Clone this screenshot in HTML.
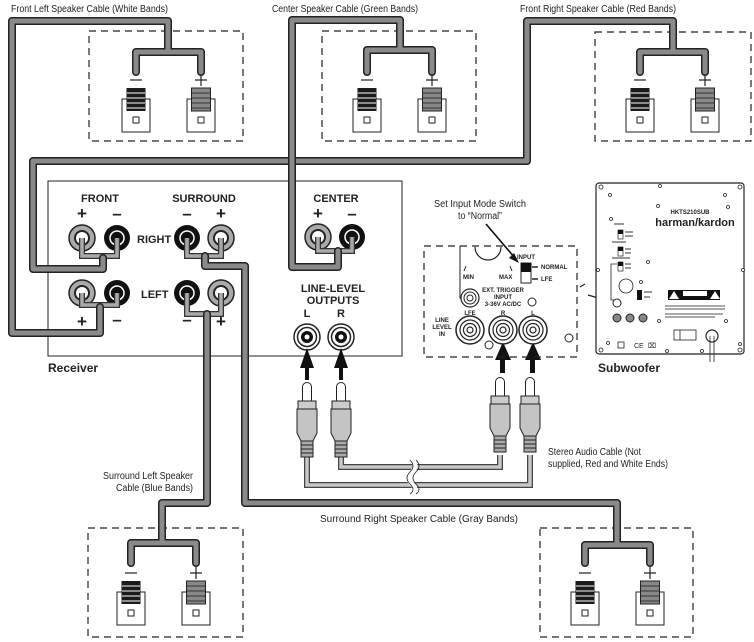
<!DOCTYPE html>
<html><head><meta charset="utf-8"><style>
html,body{margin:0;padding:0;background:#fff}
svg{display:block}
text{font-family:"Liberation Sans Narrow","Liberation Sans",sans-serif;fill:#222}
.lbl{font-size:10px}
.b{font-weight:bold;font-size:11px}
.s{font-weight:bold;font-size:6px}
.co{fill:none;stroke:#222;stroke-width:8;stroke-linejoin:round;stroke-linecap:round}
.ci{fill:none;stroke:#8a8a8a;stroke-width:5;stroke-linejoin:round;stroke-linecap:round}
.ro{fill:none;stroke:#333;stroke-width:6;stroke-linejoin:miter}
.ri{fill:none;stroke:#aaa;stroke-width:3.5;stroke-linejoin:miter}
.dash{fill:none;stroke:#222;stroke-width:1.2;stroke-dasharray:7,5}
.ao{fill:none;stroke:#444;stroke-width:6}
.ai{fill:none;stroke:#c8c8c8;stroke-width:3.5}
</style></head><body>
<svg width="754" height="642" viewBox="0 0 754 642" xmlns="http://www.w3.org/2000/svg">
<defs>
<g id="spk">
  <rect x="-14" y="11" width="28" height="33" fill="#fff" stroke="#222" stroke-width="1"/>
  <rect x="-3" y="29" width="6" height="6" fill="#fff" stroke="#222" stroke-width="1"/>
  <rect x="-9.5" y="0" width="19" height="23" fill="#1a1a1a"/>
  <path d="M-9 5H9M-9 10H9M-9 15H9M-9 20H9" stroke="#fff" stroke-width="1"/>
  <path d="M-6 -8H6" stroke="#222" stroke-width="1.2"/>
  <g transform="translate(65,0)">
  <rect x="-14" y="11" width="28" height="33" fill="#fff" stroke="#222" stroke-width="1"/>
  <rect x="-3" y="29" width="6" height="6" fill="#fff" stroke="#222" stroke-width="1"/>
  <rect x="-9.5" y="0" width="19" height="23" fill="#888" stroke="#222" stroke-width="1"/>
  <path d="M-9 5H9M-9 10H9M-9 15H9M-9 20H9" stroke="#333" stroke-width="1"/>
  <path d="M-6 -8H6M0 -14V-2" stroke="#222" stroke-width="1.2"/>
  </g>
</g>
<g id="tg"><circle r="13" fill="#aaa" stroke="#222" stroke-width="1.5"/><circle r="7" fill="#fff" stroke="#222" stroke-width="2"/></g>
<g id="tb"><circle r="13" fill="#111"/><circle r="7" fill="#111" stroke="#fff" stroke-width="1.5"/></g>
<g id="plug">
  <path d="M-4.5 18V4a4.5 4.5 0 0 1 9 0V18Z" fill="#fff" stroke="#222" stroke-width="1"/>
  <rect x="-9" y="18" width="18" height="8" fill="#ccc" stroke="#222" stroke-width="1"/>
  <path d="M-10 26H10V50L6 58H-6L-10 50Z" fill="#c4c4c4" stroke="#222" stroke-width="1"/>
  <rect x="-6" y="58" width="12" height="16" fill="#aaa" stroke="#222" stroke-width="1"/>
  <path d="M-6 62H6M-6 66H6M-6 70H6" stroke="#222" stroke-width="1"/>
</g>
<g id="jack"><circle r="14" fill="#fff" stroke="#222" stroke-width="1.5"/><circle r="10" fill="none" stroke="#222" stroke-width="1.2"/><circle r="6.5" fill="none" stroke="#222" stroke-width="1.2"/><circle r="3" fill="#fff" stroke="#222" stroke-width="1.2"/></g>
</defs>

<text class="lbl" x="11" y="12" textLength="157" lengthAdjust="spacingAndGlyphs">Front Left Speaker Cable (White Bands)</text>
<text class="lbl" x="272" y="12" textLength="146" lengthAdjust="spacingAndGlyphs">Center Speaker Cable (Green Bands)</text>
<text class="lbl" x="520" y="12" textLength="156" lengthAdjust="spacingAndGlyphs">Front Right Speaker Cable (Red Bands)</text>

<rect class="dash" x="89" y="31" width="154" height="110"/>
<rect class="dash" x="322" y="31" width="154" height="110"/>
<rect class="dash" x="595" y="32" width="156" height="109"/>
<rect class="dash" x="88" y="528" width="155" height="109"/>
<rect class="dash" x="540" y="528" width="153" height="109"/>
<use href="#spk" transform="translate(136,88)"/>
<use href="#spk" transform="translate(367,88)"/>
<use href="#spk" transform="translate(640,88)"/>
<use href="#spk" transform="translate(131,581)"/>
<use href="#spk" transform="translate(585,581)"/>

<rect x="48" y="181" width="354" height="175" fill="none" stroke="#222" stroke-width="1"/>
<text x="48" y="372" style="font-weight:bold;font-size:12px">Receiver</text>
<text class="b" x="100" y="202" text-anchor="middle">FRONT</text>
<text class="b" x="204" y="202" text-anchor="middle">SURROUND</text>
<text class="b" x="336" y="202" text-anchor="middle">CENTER</text>
<text x="82" y="219" text-anchor="middle" style="font-weight:bold;font-size:17px">+</text>
<text x="117" y="219" text-anchor="middle" style="font-weight:bold;font-size:17px">–</text>
<text x="187" y="219" text-anchor="middle" style="font-weight:bold;font-size:17px">–</text>
<text x="221" y="219" text-anchor="middle" style="font-weight:bold;font-size:17px">+</text>
<text x="318" y="219" text-anchor="middle" style="font-weight:bold;font-size:17px">+</text>
<text x="352" y="219" text-anchor="middle" style="font-weight:bold;font-size:17px">–</text>
<text x="82" y="327" text-anchor="middle" style="font-weight:bold;font-size:17px">+</text>
<text x="117" y="325" text-anchor="middle" style="font-weight:bold;font-size:17px">–</text>
<text x="187" y="325" text-anchor="middle" style="font-weight:bold;font-size:17px">–</text>
<text x="221" y="327" text-anchor="middle" style="font-weight:bold;font-size:17px">+</text>
<text class="b" x="137" y="243">RIGHT</text>
<text class="b" x="141" y="298">LEFT</text>
<text class="b" x="333" y="292" text-anchor="middle">LINE-LEVEL</text>
<text class="b" x="333" y="304" text-anchor="middle">OUTPUTS</text>
<text class="b" x="307" y="317" text-anchor="middle">L</text>
<text class="b" x="341" y="317" text-anchor="middle">R</text>
<g transform="translate(307,337)"><circle r="13" fill="#fff" stroke="#222" stroke-width="1.5"/><circle r="9.5" fill="none" stroke="#222" stroke-width="1.5"/><circle r="6" fill="#111"/><circle r="2.5" fill="#fff"/></g>
<g transform="translate(341,337)"><circle r="13" fill="#fff" stroke="#222" stroke-width="1.5"/><circle r="9.5" fill="none" stroke="#222" stroke-width="1.5"/><circle r="6" fill="#111"/><circle r="2.5" fill="#fff"/></g>

<use href="#tg" x="82" y="238"/><use href="#tb" x="117" y="238"/>
<use href="#tb" x="187" y="238"/><use href="#tg" x="221" y="238"/>
<use href="#tg" x="82" y="293"/><use href="#tb" x="117" y="293"/>
<use href="#tb" x="187" y="293"/><use href="#tg" x="221" y="293"/>
<use href="#tg" x="318" y="237"/><use href="#tb" x="352" y="237"/>

<path class="ro" d="M82,238V256H117V238M82,293V305H117V293M187,238V256H221V238M187,293V314H221V293M318,237V251H352V237"/>
<path class="ri" d="M82,238V256H117V238M82,293V305H117V293M187,238V256H221V238M187,293V314H221V293M318,237V251H352V237"/>

<path class="co" d="M100,307V333H12V21H168V52M136,72V52H201V72"/>
<path class="ci" d="M100,307V333H12V21H168V52M136,72V52H201V72"/>
<path class="co" d="M103,258V269H33V161H527V21H673V52M640,72V52H705V72"/>
<path class="ci" d="M103,258V269H33V161H527V21H673V52M640,72V52H705V72"/>
<path class="co" d="M338,251V267H292V20H400V50M367,72V50H432V72"/>
<path class="ci" d="M338,251V267H292V20H400V50M367,72V50H432V72"/>
<path class="co" d="M205,256V266H245V503H617V545M585,563V545H650V563"/>
<path class="ci" d="M205,256V266H245V503H617V545M585,563V545H650V563"/>
<path class="co" d="M207,314V503H162V543M131,563V543H196V563"/>
<path class="ci" d="M207,314V503H162V543M131,563V543H196V563"/>

<text class="lbl" x="193" y="479" text-anchor="end" textLength="90" lengthAdjust="spacingAndGlyphs">Surround Left Speaker</text>
<text class="lbl" x="193" y="491" text-anchor="end" textLength="77" lengthAdjust="spacingAndGlyphs">Cable (Blue Bands)</text>
<text class="lbl" x="320" y="522" textLength="198" lengthAdjust="spacingAndGlyphs">Surround Right Speaker Cable (Gray Bands)</text>

<path class="ao" d="M307,455V485H530V455M341,455V467H500V455"/>
<path class="ai" d="M307,455V485H530V455M341,455V467H500V455"/>
<path d="M412,460q6,6 0,12q-6,6 0,12q6,6 0,10" fill="none" stroke="#fff" stroke-width="5"/>
<path d="M410,460q6,6 0,12q-6,6 0,12q6,6 0,10M416,460q6,6 0,12q-6,6 0,12q6,6 0,10" fill="none" stroke="#222" stroke-width="0.8"/>
<use href="#plug" x="307" y="383"/>
<use href="#plug" x="341" y="383"/>
<use href="#plug" x="500" y="378"/>
<use href="#plug" x="530" y="378"/>
<text class="lbl" x="548" y="455" textLength="93" lengthAdjust="spacingAndGlyphs">Stereo Audio Cable (Not</text>
<text class="lbl" x="548" y="467" textLength="120" lengthAdjust="spacingAndGlyphs">supplied, Red and White Ends)</text>

<g fill="#111">
<path d="M307,348L300,368H305V380H309V368H314Z"/>
<path d="M341,348L334,368H339V380H343V368H348Z"/>
<path d="M503,342L495,360H500V373H505V360H511Z"/>
<path d="M533,342L525,360H530V373H535V360H541Z"/>
</g>

<rect class="dash" x="424" y="246" width="153" height="111"/>
<text class="lbl" x="480" y="207" text-anchor="middle" textLength="92" lengthAdjust="spacingAndGlyphs">Set Input Mode Switch</text>
<text class="lbl" x="480" y="219" text-anchor="middle" textLength="44" lengthAdjust="spacingAndGlyphs">to “Normal”</text>
<path d="M486,224L515,258" stroke="#111" stroke-width="1.6"/>
<path d="M519,263L509,258L514,253Z" fill="#111"/>
<path d="M475,247A13,13 0 1 0 501,247" fill="none" stroke="#222" stroke-width="1.2"/>
<path d="M466,266L464,271M510,266L512,271" stroke="#222" stroke-width="1"/>
<text class="s" x="463" y="279">MIN</text>
<text class="s" x="499" y="279">MAX</text>
<text class="s" x="517" y="259">INPUT</text>
<rect x="521" y="263" width="10" height="20" fill="#fff" stroke="#222"/>
<rect x="521" y="263" width="10" height="9" fill="#111"/>
<path d="M532,267H538M532,279H538" stroke="#222" stroke-width="1.5"/>
<text class="s" x="541" y="269">NORMAL</text>
<text class="s" x="541" y="281">LFE</text>
<path d="M460,246V298H462" fill="none" stroke="#222" stroke-width="1"/>
<circle cx="470" cy="298" r="9" fill="#fff" stroke="#222" stroke-width="1.2"/><circle cx="470" cy="298" r="6" fill="none" stroke="#222"/><circle cx="470" cy="298" r="3" fill="none" stroke="#222"/>
<text class="s" x="503" y="292" text-anchor="middle">EXT. TRIGGER</text>
<text class="s" x="503" y="299" text-anchor="middle">INPUT</text>
<text class="s" x="503" y="306" text-anchor="middle">3-36V AC/DC</text>
<circle cx="532" cy="302" r="4" fill="#fff" stroke="#222"/>
<circle cx="489" cy="345" r="4" fill="#fff" stroke="#222"/>
<circle cx="569" cy="338" r="4" fill="#fff" stroke="#222"/>
<text class="s" x="470" y="315" text-anchor="middle">LFE</text>
<text class="s" x="503" y="315" text-anchor="middle">R</text>
<text class="s" x="533" y="315" text-anchor="middle">L</text>
<text class="s" x="442" y="322" text-anchor="middle">LINE</text>
<text class="s" x="442" y="329" text-anchor="middle">LEVEL</text>
<text class="s" x="442" y="336" text-anchor="middle">IN</text>
<use href="#jack" x="470" y="330"/>
<use href="#jack" x="503" y="330"/>
<use href="#jack" x="533" y="330"/>
<path d="M580,287L585,284M588,295L612,302" stroke="#222" stroke-width="1.2"/>

<rect x="596" y="183" width="148" height="171" rx="3" fill="#fff" stroke="#222" stroke-width="1.2"/>
<g fill="#fff" stroke="#222" stroke-width="0.8">
<circle cx="601" cy="187" r="2"/><circle cx="740" cy="187" r="2"/><circle cx="601" cy="350" r="2"/><circle cx="740" cy="350" r="2"/>
<circle cx="610" cy="195" r="1.5"/><circle cx="660" cy="186" r="1.5"/><circle cx="725" cy="195" r="1.5"/><circle cx="658" cy="206" r="1.5"/><circle cx="728" cy="207" r="1.5"/>
<circle cx="598" cy="270" r="1.5"/><circle cx="743" cy="270" r="1.5"/><circle cx="611" cy="219" r="1.5"/><circle cx="648" cy="262" r="1.5"/><circle cx="641" cy="282" r="1.5"/>
<circle cx="659" cy="321" r="1.5"/><circle cx="726" cy="321" r="1.5"/><circle cx="608" cy="343" r="1.5"/><circle cx="740" cy="344" r="1.5"/><circle cx="667" cy="351" r="1.5"/><circle cx="702" cy="351" r="1.5"/>
</g>
<text x="690" y="214" text-anchor="middle" style="font-size:6px;font-weight:bold">HKTS210SUB</text>
<text x="695" y="226" text-anchor="middle" style="font-size:11px;font-weight:bold">harman/kardon</text>
<rect x="618" y="230" width="5" height="9" fill="#fff" stroke="#222" stroke-width="0.7"/><rect x="618" y="230" width="5" height="4" fill="#111"/>
<rect x="618" y="247" width="5" height="9" fill="#fff" stroke="#222" stroke-width="0.7"/><rect x="618" y="247" width="5" height="4" fill="#111"/>
<rect x="618" y="262" width="5" height="9" fill="#fff" stroke="#222" stroke-width="0.7"/><rect x="618" y="262" width="5" height="4" fill="#111"/>
<path d="M625,232h8M625,236h8M625,249h6M625,253h6M625,264h6M625,268h6M614,224h10M612,242h14M612,258h18" stroke="#333" stroke-width="1"/>
<path d="M617,264H611V300H614" fill="none" stroke="#222" stroke-width="0.8"/>
<circle cx="626" cy="286" r="7" fill="#fff" stroke="#222" stroke-width="0.8"/>
<rect x="637" y="290" width="5" height="10" fill="#111"/>
<path d="M644,292h8M644,297h6" stroke="#333"/>
<circle cx="617" cy="303" r="4" fill="#fff" stroke="#222"/>
<circle cx="617" cy="318" r="4" fill="#888" stroke="#222"/><circle cx="630" cy="318" r="4" fill="#888" stroke="#222"/><circle cx="643" cy="318" r="4" fill="#888" stroke="#222"/>
<rect x="668" y="290" width="52" height="10" fill="#111"/>
<rect x="683" y="291" width="24" height="5" fill="#fff"/>
<path d="M669,299l5,-8l5,8ZM710,299l5,-8l5,8Z" fill="#fff"/>
<path d="M665,306h60M665,309h60M665,314h58M665,317h50" stroke="#555" stroke-width="1"/>
<rect x="674" y="330" width="22" height="10" fill="#fff" stroke="#222" stroke-width="0.8"/>
<path d="M680,330v10" stroke="#222" stroke-width="0.8"/>
<circle cx="712" cy="336" r="6" fill="#fff" stroke="#222" stroke-width="1.2"/>
<path d="M710,336V362M714,336V362" stroke="#222" stroke-width="0.8"/>
<rect x="618" y="342" width="6" height="6" fill="#fff" stroke="#222" stroke-width="0.8"/>
<text x="634" y="348" style="font-size:7px">CE</text>
<text x="648" y="348" style="font-size:7px">⌧</text>
<text x="598" y="372" style="font-weight:bold;font-size:12px">Subwoofer</text>
</svg>
</body></html>
